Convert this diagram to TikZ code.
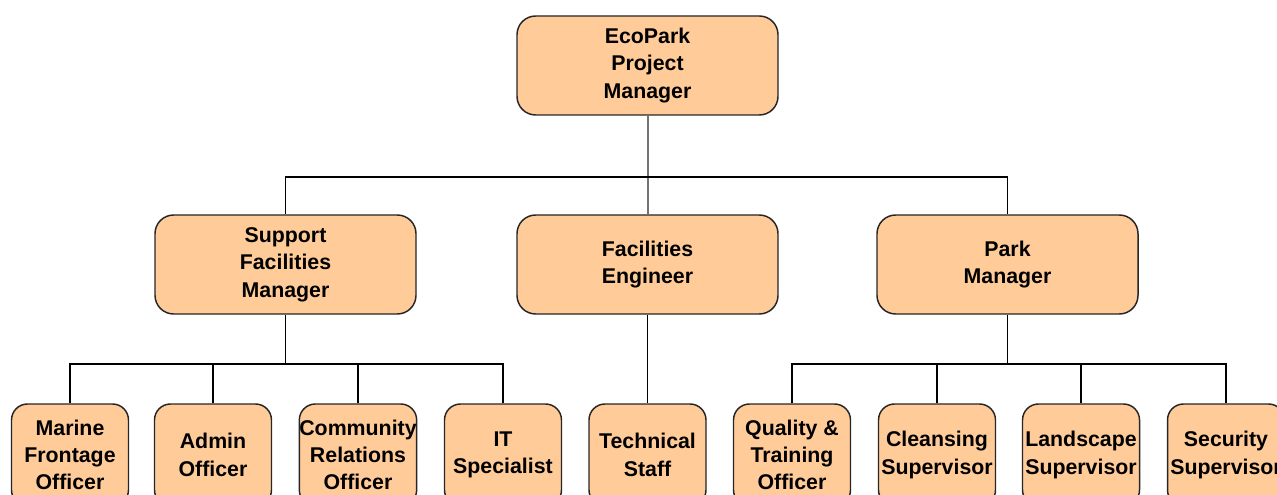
\documentclass[tikz,border=0pt]{standalone}
\usepackage{fontspec}
\setmainfont{Liberation Sans}
\usepackage{xcolor}
\usepackage{tikz}
\definecolor{peach}{RGB}{255,204,153}

\begin{document}
\begin{tikzpicture}[x=0.75pt, y=-0.75pt,
	box/.style={draw=black!85, line width=1.1pt, fill=peach, rounded corners=14pt,
		align=center, font=\fontsize{16}{20.5}\selectfont\bfseries, inner sep=0pt},
	bigbox/.style={box, minimum width=195.75pt, minimum height=74.25pt},
	smallbox/.style={box, minimum width=87.75pt, minimum height=76.5pt, rounded corners=12pt},
	link/.style={line width=1.4pt, black}]
	\useasboundingbox (0,0) rectangle (1277,495);
	\clip (0,0) rectangle (1277,495);
	% top level
	\node[bigbox] (epm) at (647.5,65.5) {EcoPark\\Project\\Manager};
	% second level
	\node[bigbox] (sfm) at (285.5,264.5) {Support\\Facilities\\Manager};
	\node[bigbox] (fe)  at (647.5,264.5) {Facilities\\Engineer};
	\node[bigbox] (pm)  at (1007.5,264.5) {Park\\Manager};
	% third level
	\node[smallbox] (mfo) at (70,455)   {Marine\\Frontage\\Officer};
	\node[smallbox] (ao)  at (213,455)  {Admin\\Officer};
	\node[smallbox] (cro) at (358,455)  {Community\\Relations\\Officer};
	\node[smallbox] (its) at (503,455)  {IT\\Specialist};
	\node[smallbox] (ts)  at (647.5,455) {Technical\\Staff};
	\node[smallbox] (qto) at (792,455)  {Quality \&\\Training\\Officer};
	\node[smallbox] (cs)  at (937,455)  {Cleansing\\Supervisor};
	\node[smallbox] (ls)  at (1081,455) {Landscape\\Supervisor};
	\node[smallbox] (ss)  at (1226,455) {Security\\Supervisor};
	% connectors
	\coordinate (busA) at (0,177);
	\coordinate (busB) at (0,364);
	\draw[line width=1.5pt, black!55] (epm.south) -- (fe.north);
	\draw[link] (sfm.north) -- (sfm.north |- busA) -- (pm.north |- busA) -- (pm.north);
	\draw[link] (fe.south) -- (ts.north);
	\draw[link] (sfm.south) -- (sfm.south |- busB);
	\draw[link] (mfo.north) -- (mfo.north |- busB) -- (its.north |- busB) -- (its.north);
	\foreach \n in {ao,cro} \draw[link] (\n.north) -- (\n.north |- busB);
	\draw[link] (pm.south) -- (pm.south |- busB);
	\draw[link] (qto.north) -- (qto.north |- busB) -- (ss.north |- busB) -- (ss.north);
	\foreach \n in {cs,ls} \draw[link] (\n.north) -- (\n.north |- busB);
\end{tikzpicture}
\end{document}
